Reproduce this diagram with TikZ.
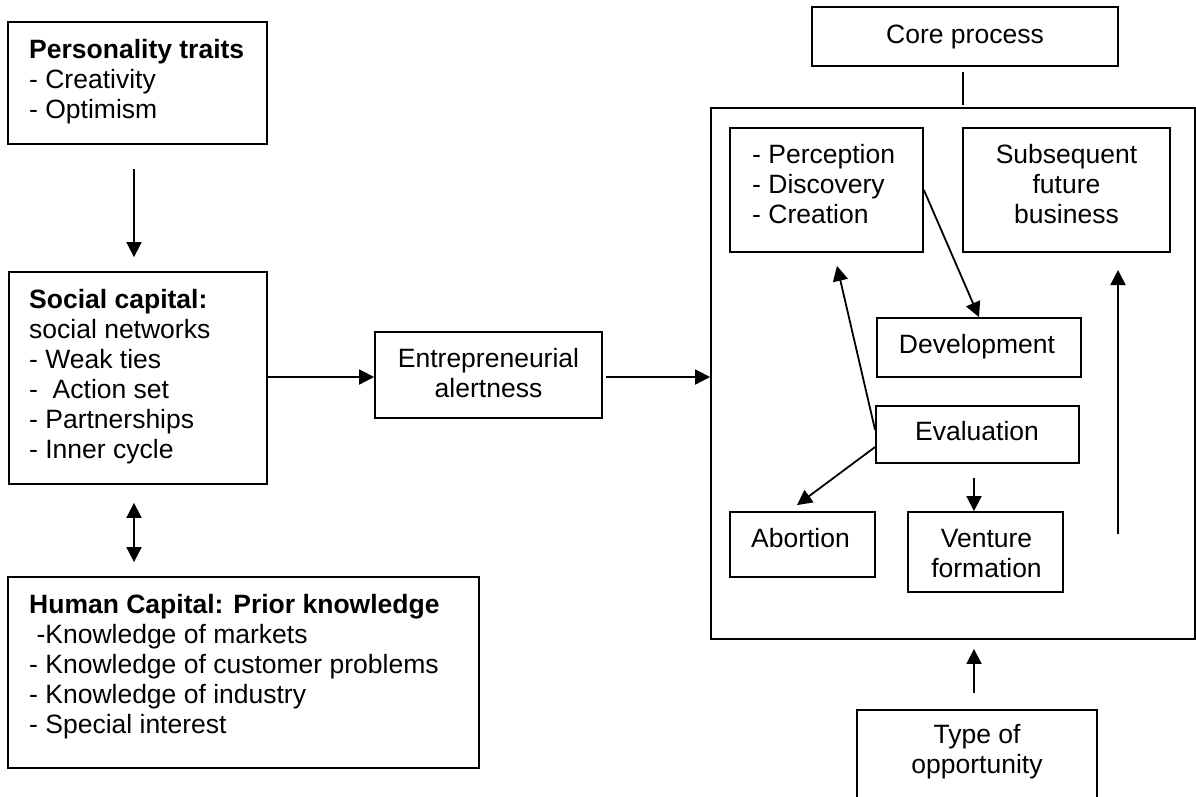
\documentclass[tikz,border=0pt]{standalone}
\usepackage{fontspec}
\setmainfont{Liberation Sans}
\usetikzlibrary{arrows.meta,calc}
\newcommand\mylines[2][l]{\begin{tabular}[t]{@{}#1@{}}#2\end{tabular}}
\begin{document}
\begin{tikzpicture}[x=1pt,y=-1pt,
  font=\fontsize{26.5}{30}\selectfont,
  box/.style={draw, line width=1.8pt, rectangle, inner sep=0pt},
  txt/.style={inner sep=0pt},
  arr/.style={line width=1.8pt, -{Triangle[length=15pt,width=15pt]}},
  darr/.style={line width=1.8pt, {Triangle[length=15pt,width=15pt]}-{Triangle[length=15pt,width=15pt]}},
  plain/.style={line width=1.8pt}]
\useasboundingbox (0,0) rectangle (1196,796);
\clip (0,0) rectangle (1196,796);
\fill[white] (0,0) rectangle (1196,796);

% boxes
\node[box, minimum width=259pt, minimum height=122pt] (pt) at (137.5,83) {};
\node[box, minimum width=258pt, minimum height=212pt] (sc) at (138,378) {};
\node[box, minimum width=471pt, minimum height=191pt] (hc) at (243.5,672.5) {};
\node[box, minimum width=227pt, minimum height=86pt] (ea) at (488.5,375) {};
\node[box, minimum width=484pt, minimum height=531pt] (big) at (953,373.5) {};
\node[box, minimum width=306pt, minimum height=59pt] (core) at (965,36.5) {};
\node[box, minimum width=193pt, minimum height=124pt] (perc) at (826.5,190) {};
\node[box, minimum width=207pt, minimum height=124pt] (subs) at (1066.5,190) {};
\node[box, minimum width=204pt, minimum height=59pt] (dev) at (979,347.5) {};
\node[box, minimum width=203pt, minimum height=57pt] (eval) at (977.5,434.5) {};
\node[box, minimum width=145pt, minimum height=65pt] (abort) at (802.5,544.5) {};
\node[box, minimum width=155pt, minimum height=80pt] (vent) at (985.5,552) {};
\node[box, minimum width=240pt, minimum height=105pt] (type) at (977,762.5) {};

% texts
\node[txt, anchor=base west] (ptT) at (29,58) {\mylines{\bfseries Personality traits\\- Creativity\\- Optimism}};
\node[txt, anchor=base west] (scT) at (29,308) {\mylines{\bfseries Social capital:\\social networks\\- Weak ties\\-\ \ Action set\\- Partnerships\\- Inner cycle}};
\node[txt, anchor=base west] (hcT) at (29,613) {\mylines{\bfseries Human Capital: Prior knowledge\\\ -Knowledge of markets\\- Knowledge of customer problems\\- Knowledge of industry\\- Special interest}};
\node[txt, anchor=base] (eaT) at (488.5,367) {\mylines[c]{Entrepreneurial\\alertness}};
\node[txt, anchor=base] (coreT) at (965,43) {Core process};
\node[txt, anchor=base west] (percT) at (752,163) {\mylines{- Perception\\- Discovery\\- Creation}};
\node[txt, anchor=base] (subsT) at (1066.5,163) {\mylines[c]{Subsequent\\future\\business}};
\node[txt, anchor=base] (devT) at (977,353) {Development};
\node[txt, anchor=base] (evalT) at (977,440) {Evaluation};
\node[txt, anchor=base] (abortT) at (800.5,547) {Abortion};
\node[txt, anchor=base] (ventT) at (986.5,547) {\mylines[c]{Venture\\formation}};
\node[txt, anchor=base] (typeT) at (977,743) {\mylines[c]{Type of\\opportunity}};

% connectors
\draw[arr] ($(pt.south)+(-3.5,24)$) -- ($(sc.north)+(-4,-14)$);
\draw[darr] ($(sc.south)+(-4,18)$) -- ($(hc.north)+(-109.5,-14)$);
\draw[arr] ($(sc.east)+(0,-1)$) -- ($(ea.west)+(0,2)$);
\draw[arr] ($(ea.east)+(3,2)$) -- ($(big.west)+(0,3.5)$);
\draw[plain] ($(core.south)+(-2,5)$) -- ($(core.south)+(-2,38)$);
\draw[arr] (perc.east) -- (dev.north);
\draw[arr] ($(eval.west)+(0,-4.5)$) -- ($(perc.south)+(10.5,13)$);
\draw[arr] ($(eval.west)+(0,12.5)$) -- ($(abort.north)+(-5.5,-6)$);
\draw[arr] ($(eval.south)+(-3.5,14)$) -- ($(vent.north)+(-11.5,0)$);
\coordinate (upA) at (1118,534);
\coordinate (upB) at (1118,270);
\draw[arr] (upA) -- (upB);
\draw[arr] ($(type.north)+(-3,-16)$) -- ($(big.south)+(21,9)$);
\end{tikzpicture}
\end{document}
